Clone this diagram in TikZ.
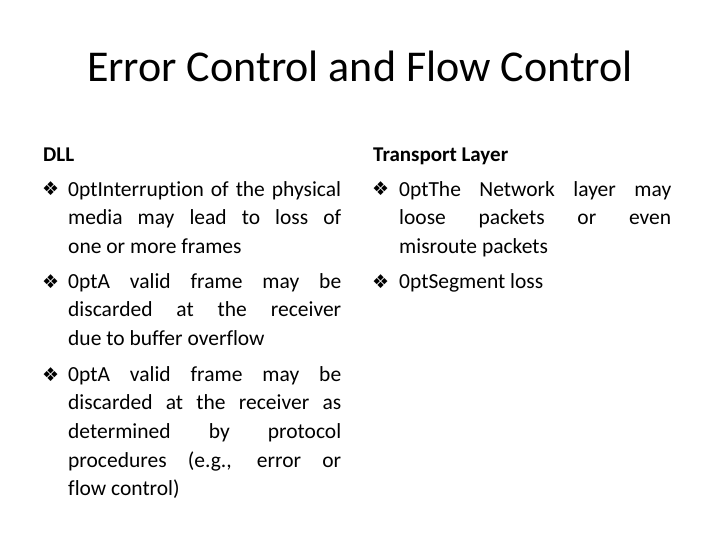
\documentclass[tikz,border=0pt]{standalone}
\usepackage{fontspec}
\setmainfont{Carlito}[Ligatures=NoCommon]
\newfontfamily\symf{DejaVu Sans}
\begin{document}
\begin{tikzpicture}[x=1pt,y=1pt,
  body/.style={anchor=north west,inner sep=0pt,text width=273pt,align=justify,font=\fontsize{21.5}{28.7}\selectfont\hyphenpenalty=10000 },
  bul/.style={anchor=base west,inner sep=0pt,font=\symf\fontsize{19}{20}\selectfont},
  head/.style={anchor=base west,inner sep=0pt,font=\bfseries\fontsize{21}{24}\selectfont}]
\useasboundingbox (0,0) rectangle (720,-540);
\node[inner sep=0pt,font=\fontsize{44}{50}\selectfont,anchor=base] (title) at (360,-82) {Error Control and Flow Control};
\node[head] (h1) at (43,-162) {DLL};
\node[head] (h2) at (373,-162) {Transport Layer};
\node[bul] (b1) at (42,-196) {❖};
\node[body] (t1) at (68,-181) {Interruption of the physical\linebreak media may lead to loss of\linebreak one or more frames};
\node[bul] (b2) at (42,-288) {❖};
\node[body] (t2) at (68,-273) {A valid frame may be\linebreak discarded at the receiver\linebreak due to buffer overflow};
\node[bul] (b3) at (42,-381) {❖};
\node[body] (t3) at (68,-366) {A valid frame may be\linebreak discarded at the receiver as\linebreak determined by protocol\linebreak procedures (e.g., error or\linebreak flow control)};
\node[bul] (b4) at (372,-196) {❖};
\node[body,text width=272pt] (t4) at (399,-181) {The Network layer may\linebreak loose packets or even\linebreak misroute packets};
\node[bul] (b5) at (372,-288) {❖};
\node[body,text width=272pt] (t5) at (399,-273) {Segment loss};
\end{tikzpicture}
\end{document}
